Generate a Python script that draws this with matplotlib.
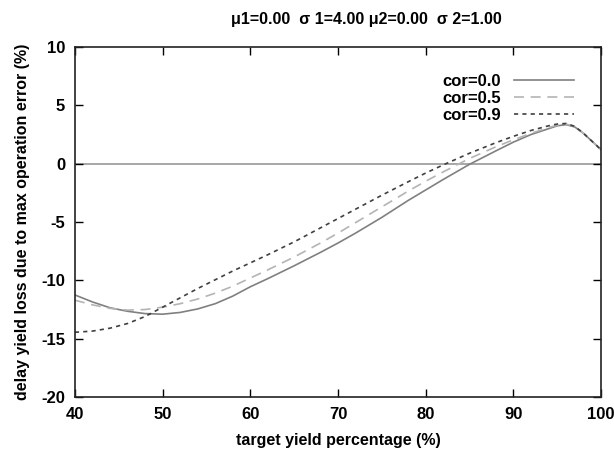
import matplotlib
matplotlib.use("Agg")
import matplotlib.pyplot as plt

plt.rcParams["font.family"] = ["Liberation Sans", "DejaVu Sans"]
plt.rcParams["font.weight"] = "bold"
plt.rcParams["axes.unicode_minus"] = False

# target yield percentage (%)
yield_pct = [40, 42, 44, 46, 48, 50, 52, 54, 56, 58, 60, 62, 65, 68, 70,
             72, 75, 78, 80, 82, 85, 88, 90, 92, 94, 95, 96, 97, 98, 99, 100]

loss_cor00 = [-11.25, -11.85, -12.35, -12.65, -12.85, -12.9, -12.75, -12.45,
              -12.0, -11.35, -10.55, -9.85, -8.75, -7.6, -6.8, -5.95, -4.6,
              -3.15, -2.25, -1.35, -0.05, 1.1, 1.85, 2.5, 3.0, 3.25, 3.35, 3.15,
              2.6, 1.9, 1.2]
loss_cor05 = [-11.7, -12.1, -12.4, -12.55, -12.5, -12.3, -12.0, -11.6,
              -11.1, -10.5, -9.8, -9.1, -8.0, -6.8, -5.95, -5.05, -3.7,
              -2.35, -1.5, -0.7, 0.45, 1.45, 2.05, 2.6, 3.1, 3.3, 3.4, 3.2,
              2.6, 1.9, 1.2]
loss_cor09 = [-14.45, -14.35, -14.1, -13.7, -13.1, -12.3, -11.5, -10.7,
              -9.95, -9.2, -8.5, -7.8, -6.7, -5.5, -4.7, -3.9, -2.7, -1.55,
              -0.8, -0.1, 0.9, 1.8, 2.35, 2.85, 3.25, 3.4, 3.45, 3.2,
              2.6, 1.9, 1.2]

fig = plt.figure(figsize=(6.14, 4.53), dpi=100)
ax = fig.add_axes([0.122, 0.1236, 0.857, 0.7725])

ax.axhline(0, color="#a0a0a0", lw=1.3, zorder=1)
ax.plot(yield_pct, loss_cor00, color="#808080", lw=1.2, label="cor=0.0")
ax.plot(yield_pct, loss_cor05, color="#b4b4b4", lw=1.2, ls=(0, (6, 4)),
        label="cor=0.5")
ax.plot(yield_pct, loss_cor09, color="#404040", lw=1.2, ls=(0, (2.5, 2.5)),
        label="cor=0.9")

ax.set_xlim(40, 100)
ax.set_ylim(-20, 10)
ax.set_xticks(range(40, 101, 10))
ax.set_yticks(range(-20, 11, 5))
ax.tick_params(direction="in", length=6, width=1, top=True, right=True,
               labelsize=12, pad=7)
for lbl in ax.get_xticklabels() + ax.get_yticklabels():
    lbl.set_fontweight("bold")
for sp in ax.spines.values():
    sp.set_linewidth(1.2)
    sp.set_color("#222222")

ax.set_xlabel("target yield percentage (%)", fontsize=11.5, fontweight="bold",
              labelpad=8)
ax.set_ylabel("delay yield loss due to max operation error (%)", fontsize=11.5,
              fontweight="bold", labelpad=8)

fig.text(0.596, 0.958, "\u03bc1=0.00  \u03c3 1=4.00 \u03bc2=0.00  \u03c3 2=1.00",
         ha="center", va="center", fontsize=11.5, fontweight="bold")

leg = ax.legend(loc="upper right", frameon=False, markerfirst=False,
                handlelength=3.6, handletextpad=0.8, labelspacing=0.12,
                fontsize=12, borderaxespad=1.2)
for t in leg.get_texts():
    t.set_fontweight("bold")

fig.savefig("out.png", dpi=100, facecolor="white")
